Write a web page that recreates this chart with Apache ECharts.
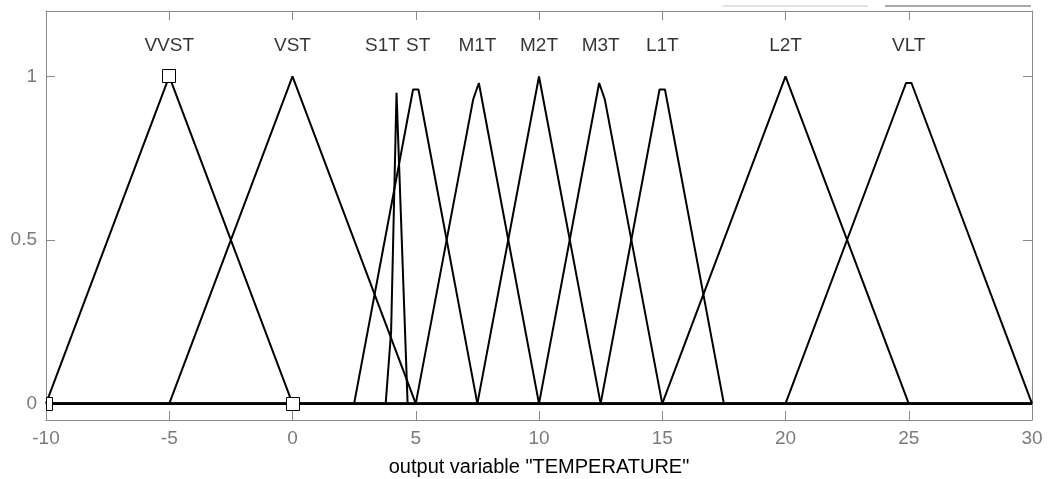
<!DOCTYPE html>
<html>
<head>
<meta charset="utf-8">
<title>output variable TEMPERATURE</title>
<script src="https://cdn.jsdelivr.net/npm/echarts@6/dist/echarts.min.js"></script>
<style>
  html, body { margin: 0; padding: 0; background: #fff; }
  #chart { width: 1048px; height: 479px; }
</style>
</head>
<body>
<div id="chart"></div>
<script>
// 隶属函数顶点 (x, 隶属度)
const xRange = [-10, 30]
const mfVVST = [[-10, 0], [-5, 1], [0, 0]]
const mfVST = [[-5, 0], [0, 1], [5, 0]]
const mfS1T = [[3.78, 0], [4.0, 0.22], [4.22, 0.95], [4.67, 0]]
const mfST = [[2.5, 0], [4.89, 0.96], [5.11, 0.96], [7.5, 0]]
const mfM1T = [[5, 0], [7.33, 0.93], [7.56, 0.98], [10, 0]]
const mfM2T = [[7.5, 0], [10, 1], [12.5, 0]]
const mfM3T = [[10, 0], [12.44, 0.98], [12.67, 0.93], [15, 0]]
const mfL1T = [[12.5, 0], [14.89, 0.96], [15.11, 0.96], [17.5, 0]]
const mfL2T = [[15, 0], [20, 1], [25, 0]]
const mfVLT = [[20, 0], [24.89, 0.98], [25.11, 0.98], [30, 0]]

const mfNames = ['VVST', 'VST', 'S1T', 'ST', 'M1T', 'M2T', 'M3T', 'L1T', 'L2T', 'VLT']
const labelX = [-5, 0, 3.65, 5.1, 7.5, 10, 12.5, 15, 20, 25]
const labelY = 1.095
// 选中的 VVST 参数点（方块）
const selectedParams = [[-10, 0], [-5, 1], [0, 0]]
const yTicks = [0, 0.5, 1]

const mfList = [mfVVST, mfVST, mfS1T, mfST, mfM1T, mfM2T, mfM3T, mfL1T, mfL2T, mfVLT]

const chart = echarts.init(document.getElementById('chart'))

const axisGray = '#8a8a8a'
const labelGray = '#7b7b7b'
const font = 'Liberation Sans'

// 每条曲线在支撑区间外为 0，延伸到整个 x 范围
const lineSeries = mfList.map((pts, i) => ({
  name: mfNames[i],
  type: 'line',
  data: [[xRange[0], 0]].concat(pts, [[xRange[1], 0]]),
  showSymbol: false,
  symbol: 'none',
  lineStyle: { color: '#000', width: 2 },
  silent: true,
  z: 3,
}))

// 四周边框轴的公共设置
const boxAxis = {
  axisLine: { show: true, onZero: false, lineStyle: { color: axisGray, width: 1 } },
  splitLine: { show: false },
}

chart.setOption({
  animation: false,
  textStyle: { fontFamily: font },
  grid: { left: 46, right: 16, top: 11, bottom: 59, containLabel: false, outerBoundsMode: 'none' },
  xAxis: [
    {
      ...boxAxis,
      type: 'value',
      min: xRange[0],
      max: xRange[1],
      interval: 5,
      position: 'bottom',
      name: 'output variable "TEMPERATURE"',
      nameLocation: 'middle',
      nameGap: 37,
      nameTextStyle: { color: '#000', fontSize: 20, fontFamily: font },
      axisTick: { show: true, inside: true, length: 9, lineStyle: { color: axisGray } },
      axisLabel: { color: labelGray, fontSize: 19, margin: 9, fontFamily: font },
    },
    {
      ...boxAxis,
      type: 'value',
      min: xRange[0],
      max: xRange[1],
      interval: 5,
      position: 'top',
      axisTick: { show: true, inside: true, length: 9, lineStyle: { color: axisGray } },
      axisLabel: { show: false },
    },
  ],
  yAxis: [
    {
      ...boxAxis,
      type: 'value',
      min: -0.05,
      max: 1.2,
      position: 'left',
      axisTick: { show: true, inside: true, length: 9, customValues: yTicks, lineStyle: { color: axisGray } },
      axisLabel: { color: labelGray, fontSize: 19, margin: 9, customValues: yTicks, fontFamily: font },
    },
    {
      ...boxAxis,
      type: 'value',
      min: -0.05,
      max: 1.2,
      position: 'right',
      axisTick: { show: true, inside: true, length: 9, customValues: yTicks, lineStyle: { color: axisGray } },
      axisLabel: { show: false },
    },
  ],
  graphic: [
    // 右上角工具栏残留的灰线
    { type: 'rect', shape: { x: 723, y: 5, width: 145, height: 2 }, style: { fill: '#e2e2e2' } },
    { type: 'rect', shape: { x: 885, y: 5, width: 146, height: 2 }, style: { fill: '#a9a9a9' } },
  ],
  series: lineSeries.concat([
    {
      // 曲线名称
      type: 'scatter',
      data: mfNames.map((n, i) => ({ name: n, value: [labelX[i], labelY] })),
      symbolSize: 1,
      itemStyle: { color: 'rgba(0,0,0,0)' },
      label: {
        show: true,
        position: 'inside',
        formatter: '{b}',
        color: '#000',
        fontSize: 19,
        fontFamily: font,
      },
      silent: true,
      z: 4,
    },
    {
      // 参数方块，超出绘图区的部分裁掉
      type: 'custom',
      clip: true,
      data: selectedParams,
      renderItem(params, api) {
        const p = api.coord([api.value(0), api.value(1)])
        const cs = params.coordSys
        const x0 = Math.round(p[0]) - 6.5
        const x1 = x0 + 13
        const left = Math.max(x0, cs.x + 0.5)
        return {
          type: 'rect',
          shape: { x: left, y: Math.round(p[1]) - 6.5, width: x1 - left, height: 13 },
          style: { fill: '#fff', stroke: '#000', lineWidth: 1 },
        }
      },
      silent: true,
      z: 5,
    },
  ]),
})
</script>
</body>
</html>
